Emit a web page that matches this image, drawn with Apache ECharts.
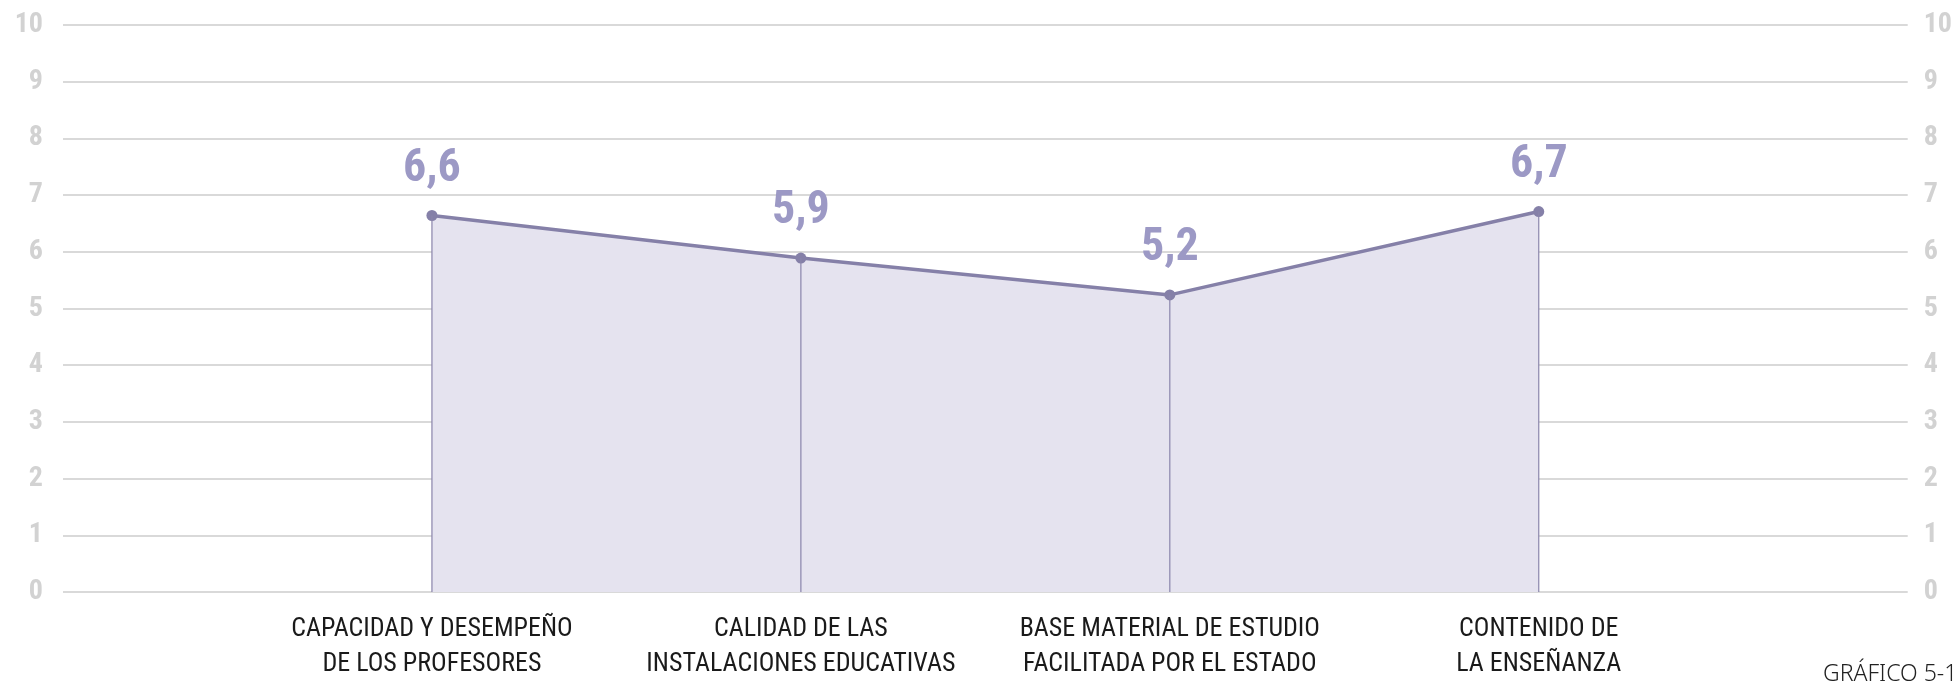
<!DOCTYPE html>
<html>
<head>
<meta charset="utf-8">
<script src="https://cdn.jsdelivr.net/npm/echarts@6/dist/echarts.min.js"></script>
<style>html,body{margin:0;padding:0;background:#fff}#c{width:1955px;height:685px}</style>
</head>
<body>
<div id="c"></div>
<script>
const categories = ['', 'CAPACIDAD Y DESEMPEÑO\nDE LOS PROFESORES', 'CALIDAD DE LAS\nINSTALACIONES EDUCATIVAS', 'BASE MATERIAL DE ESTUDIO\nFACILITADA POR EL ESTADO', 'CONTENIDO DE\nLA ENSEÑANZA', ''];
const values = [null, 6.64, 5.89, 5.24, 6.71, null];
const yTicks = [0, 1, 2, 3, 4, 5, 6, 7, 8, 9, 10];
const footer = 'GRÁFICO 5-1';

const chart = echarts.init(document.getElementById('c'));
const condensed = '"Liberation Sans Narrow", "Roboto Condensed", "Noto Sans", sans-serif';
const yLabel = {
  fontFamily: condensed, fontWeight: 'bold', fontSize: 28, color: '#d2d2d2',
  formatter: v => yTicks.includes(v) ? String(v) : ''
};
chart.setOption({
  animation: false,
  grid: { left: 63, right: 40, top: 25, bottom: 93 },
  xAxis: {
    type: 'category', data: categories, boundaryGap: false,
    axisLine: { show: false }, axisTick: { show: false },
    axisLabel: { interval: 0, fontFamily: condensed, fontSize: 26, color: '#1a1a1a', lineHeight: 35, margin: 20 }
  },
  yAxis: [
    { type: 'value', min: 0, max: 10, interval: 1, position: 'left',
      splitLine: { lineStyle: { color: '#d9d9d9', width: 2 } },
      axisLine: { show: false }, axisTick: { show: false },
      axisLabel: Object.assign({ margin: 20 }, yLabel) },
    { type: 'value', min: 0, max: 10, interval: 1, position: 'right',
      splitLine: { show: false },
      axisLine: { show: false }, axisTick: { show: false },
      axisLabel: Object.assign({ margin: 16 }, yLabel) }
  ],
  series: [
    { type: 'line', data: values, symbol: 'circle', symbolSize: 11, z: 4,
      lineStyle: { color: '#8580a8', width: 3.5 },
      itemStyle: { color: '#8580a8' },
      areaStyle: { color: '#e5e3ef', opacity: 1, origin: 'start' },
      label: { show: true, position: 'top', distance: 18,
        fontFamily: condensed, fontWeight: 'bold', fontSize: 46, color: '#9c99c5',
        formatter: p => p.value == null ? '' : p.value.toFixed(1).replace('.', ',') } },
    { type: 'bar', data: values, barWidth: 1.2, itemStyle: { color: '#8a85ab' }, silent: true, z: 5 }
  ],
  graphic: [
    { type: 'text', left: 1823, top: 663,
      style: { text: footer, font: '300 23px "Noto Sans", sans-serif', fill: '#222', letterSpacing: 5 } }
  ]
});
</script>
</body>
</html>
